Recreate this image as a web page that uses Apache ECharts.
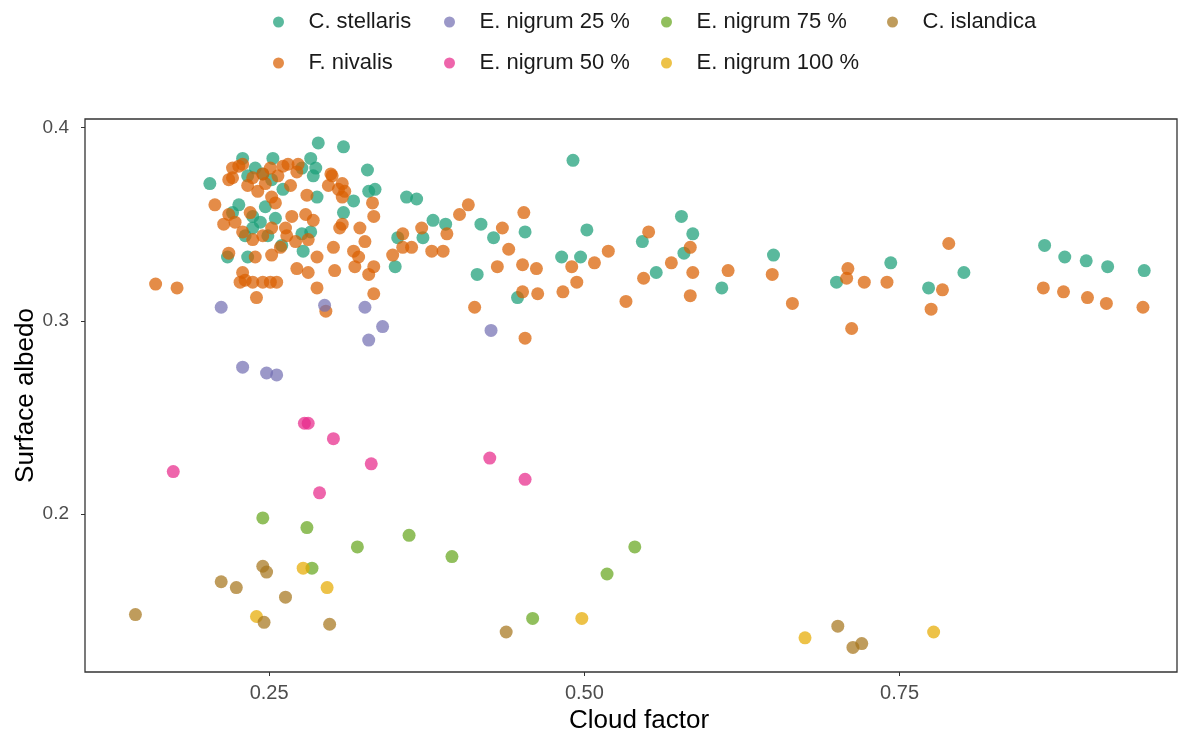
<!DOCTYPE html>
<html>
<head>
<meta charset="utf-8">
<script src="https://cdn.jsdelivr.net/npm/echarts@6/dist/echarts.min.js"></script>
<style>
  html, body { margin: 0; padding: 0; background: #ffffff; }
  #chart { width: 1196px; height: 742px; }
</style>
</head>
<body>
<div id="chart"></div>
<script>
// Surface albedo against cloud factor, one series per surface type
const seriesNames = ['C. stellaris', 'F. nivalis', 'E. nigrum 25 %', 'E. nigrum 50 %', 'E. nigrum 75 %', 'E. nigrum 100 %', 'C. islandica'];
const xTicks = [0.25, 0.5, 0.75];
const yTicks = [0.2, 0.3, 0.4];

const cStellaris = [
  [0.203, 0.371], [0.289, 0.392], [0.309, 0.390], [0.229, 0.384], [0.253, 0.384], [0.283, 0.384],
  [0.287, 0.379], [0.285, 0.375], [0.239, 0.379], [0.245, 0.376], [0.233, 0.375], [0.252, 0.373],
  [0.261, 0.368], [0.276, 0.379], [0.288, 0.364], [0.226, 0.360], [0.221, 0.356], [0.237, 0.354],
  [0.243, 0.351], [0.247, 0.359], [0.255, 0.353], [0.237, 0.348], [0.231, 0.344], [0.249, 0.344],
  [0.260, 0.339], [0.276, 0.345], [0.283, 0.346], [0.277, 0.336], [0.217, 0.333], [0.233, 0.333],
  [0.309, 0.356], [0.328, 0.378], [0.329, 0.367], [0.334, 0.368], [0.317, 0.362], [0.359, 0.364],
  [0.367, 0.363], [0.352, 0.343], [0.380, 0.352], [0.390, 0.350], [0.372, 0.343], [0.350, 0.328],
  [0.418, 0.350], [0.428, 0.343], [0.415, 0.324], [0.491, 0.383], [0.453, 0.346], [0.502, 0.347],
  [0.482, 0.333], [0.497, 0.333], [0.447, 0.312], [0.546, 0.341], [0.577, 0.354], [0.586, 0.345],
  [0.579, 0.335], [0.557, 0.325], [0.609, 0.317], [0.650, 0.334], [0.700, 0.320], [0.743, 0.330],
  [0.773, 0.317], [0.801, 0.325], [0.865, 0.339], [0.881, 0.333], [0.898, 0.331], [0.915, 0.328],
  [0.944, 0.326]
];

const fNivalis = [
  [0.160, 0.319], [0.177, 0.317], [0.207, 0.360], [0.218, 0.373], [0.221, 0.379], [0.226, 0.380],
  [0.233, 0.370], [0.241, 0.367], [0.247, 0.371], [0.257, 0.375], [0.265, 0.381], [0.272, 0.377],
  [0.267, 0.370], [0.252, 0.364], [0.255, 0.361], [0.280, 0.365], [0.300, 0.375], [0.297, 0.370],
  [0.305, 0.368], [0.214, 0.350], [0.223, 0.351], [0.218, 0.355], [0.235, 0.356], [0.229, 0.346],
  [0.237, 0.342], [0.245, 0.344], [0.252, 0.348], [0.263, 0.348], [0.268, 0.354], [0.279, 0.355],
  [0.285, 0.352], [0.281, 0.342], [0.264, 0.344], [0.271, 0.341], [0.252, 0.334], [0.239, 0.333],
  [0.218, 0.335], [0.288, 0.333], [0.301, 0.338], [0.308, 0.350], [0.272, 0.327], [0.281, 0.325],
  [0.302, 0.326], [0.229, 0.325], [0.231, 0.321], [0.237, 0.320], [0.245, 0.320], [0.251, 0.320],
  [0.256, 0.320], [0.240, 0.312], [0.288, 0.317], [0.295, 0.305], [0.221, 0.374], [0.245, 0.376],
  [0.251, 0.379], [0.261, 0.380], [0.237, 0.374], [0.273, 0.381], [0.229, 0.381], [0.227, 0.320],
  [0.259, 0.338], [0.299, 0.376], [0.308, 0.371], [0.310, 0.367], [0.308, 0.364], [0.332, 0.361],
  [0.333, 0.354], [0.306, 0.348], [0.322, 0.348], [0.326, 0.341], [0.317, 0.336], [0.321, 0.333],
  [0.318, 0.328], [0.333, 0.328], [0.329, 0.324], [0.333, 0.314], [0.348, 0.334], [0.356, 0.345],
  [0.356, 0.338], [0.363, 0.338], [0.371, 0.348], [0.379, 0.336], [0.388, 0.336], [0.391, 0.345],
  [0.401, 0.355], [0.408, 0.360], [0.413, 0.307], [0.435, 0.348], [0.431, 0.328], [0.440, 0.337],
  [0.452, 0.356], [0.451, 0.329], [0.462, 0.327], [0.451, 0.315], [0.463, 0.314], [0.483, 0.315],
  [0.494, 0.320], [0.490, 0.328], [0.508, 0.330], [0.519, 0.336], [0.453, 0.291], [0.533, 0.310],
  [0.551, 0.346], [0.547, 0.322], [0.569, 0.330], [0.584, 0.338], [0.586, 0.325], [0.584, 0.313],
  [0.614, 0.326], [0.649, 0.324], [0.665, 0.309], [0.709, 0.327], [0.708, 0.322], [0.722, 0.320],
  [0.740, 0.320], [0.712, 0.296], [0.789, 0.340], [0.784, 0.316], [0.775, 0.306], [0.864, 0.317],
  [0.880, 0.315], [0.899, 0.312], [0.914, 0.309], [0.943, 0.307]
];

const eNigrum25 = [
  [0.212, 0.307], [0.229, 0.276], [0.248, 0.273], [0.256, 0.272], [0.294, 0.308],
  [0.326, 0.307], [0.340, 0.297], [0.329, 0.290], [0.426, 0.295]
];

const eNigrum50 = [
  [0.174, 0.222], [0.278, 0.247], [0.281, 0.247], [0.301, 0.239], [0.331, 0.226],
  [0.290, 0.211], [0.425, 0.229], [0.453, 0.218]
];

const eNigrum75 = [
  [0.245, 0.198], [0.280, 0.193], [0.320, 0.183], [0.361, 0.189], [0.395, 0.178],
  [0.284, 0.172], [0.459, 0.146], [0.518, 0.169], [0.540, 0.183]
];

const eNigrum100 = [
  [0.277, 0.172], [0.296, 0.162], [0.240, 0.147], [0.498, 0.146], [0.675, 0.136], [0.777, 0.139]
];

const cIslandica = [
  [0.144, 0.148], [0.212, 0.165], [0.224, 0.162], [0.245, 0.173], [0.248, 0.170], [0.263, 0.157],
  [0.246, 0.144], [0.298, 0.143], [0.438, 0.139], [0.701, 0.142], [0.713, 0.131], [0.720, 0.133]
];

const seriesData = [cStellaris, fNivalis, eNigrum25, eNigrum50, eNigrum75, eNigrum100, cIslandica];
const palette = ['#1B9E77', '#D95F02', '#7570B3', '#E7298A', '#66A61E', '#E6AB02', '#A6761D'];

const FONT = '"Liberation Sans", Arial, sans-serif';

// legend laid out in columns of two rows
const legendColumns = [
  { names: ['C. stellaris', 'F. nivalis'], left: 273 },
  { names: ['E. nigrum 25 %', 'E. nigrum 50 %'], left: 444 },
  { names: ['E. nigrum 75 %', 'E. nigrum 100 %'], left: 661 },
  { names: ['C. islandica'], left: 887 }
];

const chart = echarts.init(document.getElementById('chart'), null, { renderer: 'canvas' });

chart.setOption({
  backgroundColor: '#ffffff',
  animation: false,
  color: palette,
  textStyle: { fontFamily: FONT },
  legend: legendColumns.map(col => ({
    data: col.names,
    orient: 'vertical',
    left: col.left,
    top: 9,
    icon: 'circle',
    itemWidth: 50,
    itemHeight: 11,
    itemGap: 15,
    padding: 0,
    textStyle: { fontFamily: FONT, fontSize: 22, color: '#1a1a1a', lineHeight: 26 }
  })),
  grid: {
    left: 85, right: 19, top: 119, bottom: 70,
    containLabel: false,
    outerBoundsMode: 'none',
    show: true, borderColor: '#333333', borderWidth: 1.3, backgroundColor: '#ffffff'
  },
  xAxis: {
    type: 'value',
    min: 0.104, max: 0.970,
    name: 'Cloud factor',
    nameLocation: 'middle',
    nameGap: 36,
    nameMoveOverlap: false,
    nameTextStyle: { fontFamily: FONT, fontSize: 26, color: '#000000', padding: [0, 0, 0, 16] },
    axisLine: { show: false },
    splitLine: { show: false },
    axisTick: { show: true, inside: false, length: 4, customValues: xTicks, lineStyle: { color: '#333333', width: 1 } },
    axisLabel: {
      customValues: xTicks, margin: 11, fontSize: 20, color: '#4d4d4d', fontFamily: FONT,
      formatter: v => v.toFixed(2)
    }
  },
  yAxis: {
    type: 'value',
    min: 0.1183, max: 0.4044,
    name: 'Surface albedo',
    nameLocation: 'middle',
    nameGap: 46,
    nameMoveOverlap: false,
    nameTextStyle: { fontFamily: FONT, fontSize: 26, color: '#000000' },
    axisLine: { show: false },
    splitLine: { show: false },
    axisTick: { show: true, inside: false, length: 4, customValues: yTicks, lineStyle: { color: '#333333', width: 1 } },
    axisLabel: {
      customValues: yTicks, margin: 16, fontSize: 19, color: '#4d4d4d', fontFamily: FONT,
      formatter: v => v.toFixed(1)
    }
  },
  series: seriesNames.map((name, i) => ({
    name: name,
    type: 'scatter',
    data: seriesData[i],
    symbol: 'circle',
    symbolSize: 13,
    itemStyle: { color: palette[i], opacity: 0.72 },
    emphasis: { disabled: true }
  }))
});
</script>
</body>
</html>
